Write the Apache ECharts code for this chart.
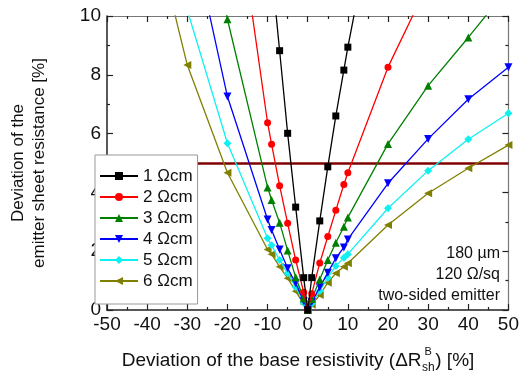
<!DOCTYPE html>
<html>
<head>
<meta charset="utf-8">
<script src="https://cdn.jsdelivr.net/npm/echarts@6/dist/echarts.min.js"></script>
<style>html,body{margin:0;padding:0;background:#fff;}#c{width:522px;height:378px;}</style>
</head>
<body>
<div id="c"></div>
<script>
// ---- data ----
const xValues = [-50,-40,-30,-20,-10,-9,-7,-5,-3,-1,0,1,3,5,7,9,10,20,30,40,50];
const seriesNames = ['1 Ωcm','2 Ωcm','3 Ωcm','4 Ωcm','5 Ωcm','6 Ωcm'];
const ohm1 = [null,null,null,null,13.0,11.6,8.82,6.01,3.5,1.1,0,1.1,3.03,4.87,6.6,8.16,8.94,16.0,null,null,null];
const ohm2 = [null,null,null,16.0,6.37,5.64,4.23,2.95,1.70,0.6,0,0.55,1.6,2.5,3.39,4.27,4.67,8.26,11.1,null,null];
const ohm3 = [null,null,16.0,9.89,4.17,3.74,2.97,2.02,1.11,0.4,0,0.37,1.04,1.70,2.29,2.83,3.15,5.65,7.63,9.27,10.96];
const ohm4 = [null,null,13.5,7.26,3.08,2.72,2.06,1.42,0.91,0.3,0,0.27,0.77,1.27,1.76,2.13,2.40,4.31,5.82,7.17,8.26];
const ohm5 = [null,null,10.2,5.67,2.44,2.2,1.7,1.25,0.78,0.25,0,0.22,0.65,1.1,1.5,1.78,1.9,3.46,4.74,5.81,6.69];
const ohm6 = [null,13.9,8.33,4.67,2.06,1.9,1.47,1.08,0.64,0.2,0,0.18,0.51,0.93,1.25,1.47,1.59,2.89,3.97,4.82,5.61];
const thresholdValue = 5;
const xTicks = {min:-50, max:50, interval:10};
const yTicks = {min:0, max:10, interval:2};
const annotationLines = ['180 µm','120 Ω/sq','two-sided emitter'];

const FONT = "'Liberation Sans', Arial, Helvetica, sans-serif";
const colors = ['#000000','#ff0000','#008000','#0000ff','#10f0f0','#808000'];
const symbols = ['rect','circle','triangle','triangle','diamond','triangle'];
const rotations = [0,0,0,180,0,90];
const sizes = [7,7,8,8,8,8];
const allY = [ohm1,ohm2,ohm3,ohm4,ohm5,ohm6];

const series = allY.map((ys,i)=>({
  name: seriesNames[i],
  type: 'line',
  data: xValues.map((x,j)=> ys[j]==null ? null : [x, ys[j]]).filter(d=>d),
  symbol: symbols[i], symbolRotate: rotations[i], symbolSize: sizes[i],
  showAllSymbol: true,
  clip: true,
  itemStyle: {color: colors[i]},
  lineStyle: {color: colors[i], width: 1.3},
  z: 10-i
}));
series.push({
  name: 'threshold', type: 'line', data: [], silent: true,
  markLine: {silent:true, symbol:'none', label:{show:false},
    lineStyle:{color:'#800000', width:2.5, type:'solid'},
    data:[{yAxis: thresholdValue}]},
  z: 3
});

const axisCommon = {
  axisLine:{show:true, onZero:false, lineStyle:{color:'#222', width:1.5}},
  axisTick:{show:true, inside:true, length:6, lineStyle:{color:'#222', width:1.2}},
  minorTick:{show:true, splitNumber:2, length:3, lineStyle:{color:'#222', width:1.2}},
  splitLine:{show:false},
};

function tw(t, size){ const c=document.createElement('canvas').getContext('2d'); c.font = size+'px '+FONT; return c.measureText(t).width; }
const TS = 19, SS = 12;
const t1 = 'Deviation of the base resistivity (ΔR', t2 = ') [%]';
const w1 = tw(t1,TS), wsh = tw('sh',SS), w2 = tw(t2,TS);
const total = w1 + wsh + 1 + w2;
const cx = 298, baseY = 361;
const x0 = cx - total/2;

const chart = echarts.init(document.getElementById('c'), null, {renderer:'canvas'});
chart.setOption({
  animation:false,
  backgroundColor:'#fff',
  textStyle:{fontFamily:FONT},
  grid:{left:84, right:11, top:16, bottom:68, containLabel:false},
  legend:{
    orient:'vertical', left:95, top:155,
    data: seriesNames,
    backgroundColor:'#fff', borderColor:'#999', borderWidth:1, borderRadius:0,
    padding:[12,5,14,4],
    itemWidth:38, itemHeight:10, itemGap:3,
    textStyle:{fontSize:17, color:'#111', fontFamily:FONT, lineHeight:18},
    z: 20
  },
  xAxis:[
    Object.assign({type:'value', position:'bottom', min:xTicks.min, max:xTicks.max, interval:xTicks.interval,
      axisLabel:{fontSize:19, color:'#111', margin:5, fontFamily:FONT}}, axisCommon),
    Object.assign({type:'value', position:'top', min:xTicks.min, max:xTicks.max, interval:xTicks.interval,
      axisLabel:{show:false}}, axisCommon, {axisLine:{show:true, onZero:false, lineStyle:{color:'#777', width:1.2}}})
  ],
  yAxis:[
    Object.assign({type:'value', position:'left', min:yTicks.min, max:yTicks.max, interval:yTicks.interval,
      axisLabel:{fontSize:19, color:'#111', margin:6, fontFamily:FONT},
      name:'Deviation of the\nemitter sheet resistance [%]', nameLocation:'middle', nameRotate:90, nameGap:57,
      nameTextStyle:{fontSize:17, color:'#111', lineHeight:21, fontFamily:FONT}}, axisCommon),
    Object.assign({type:'value', position:'right', min:yTicks.min, max:yTicks.max, interval:yTicks.interval,
      axisLabel:{show:false}}, axisCommon, {axisLine:{show:true, onZero:false, lineStyle:{color:'#777', width:1.2}}})
  ],
  series: series,
  graphic:[
    {type:'text', x:x0, y:baseY, style:{text:t1, font:TS+'px '+FONT, fill:'#111', textVerticalAlign:'middle'}},
    {type:'text', x:x0+w1+0.5, y:baseY+7, style:{text:'sh', font:SS+'px '+FONT, fill:'#111', textVerticalAlign:'middle'}},
    {type:'text', x:x0+w1+3, y:baseY-9, style:{text:'B', font:'11px '+FONT, fill:'#111', textVerticalAlign:'middle'}},
    {type:'text', x:x0+w1+wsh+1, y:baseY, style:{text:t2, font:TS+'px '+FONT, fill:'#111', textVerticalAlign:'middle'}},
    {type:'text', x:500, y:254, style:{text:annotationLines[0], font:'16px '+FONT, fill:'#111', textAlign:'right', textVerticalAlign:'middle'}},
    {type:'text', x:500, y:275, style:{text:annotationLines[1], font:'16px '+FONT, fill:'#111', textAlign:'right', textVerticalAlign:'middle'}},
    {type:'text', x:500, y:296, style:{text:annotationLines[2], font:'16px '+FONT, fill:'#111', textAlign:'right', textVerticalAlign:'middle'}}
  ]
});
</script>
</body>
</html>
